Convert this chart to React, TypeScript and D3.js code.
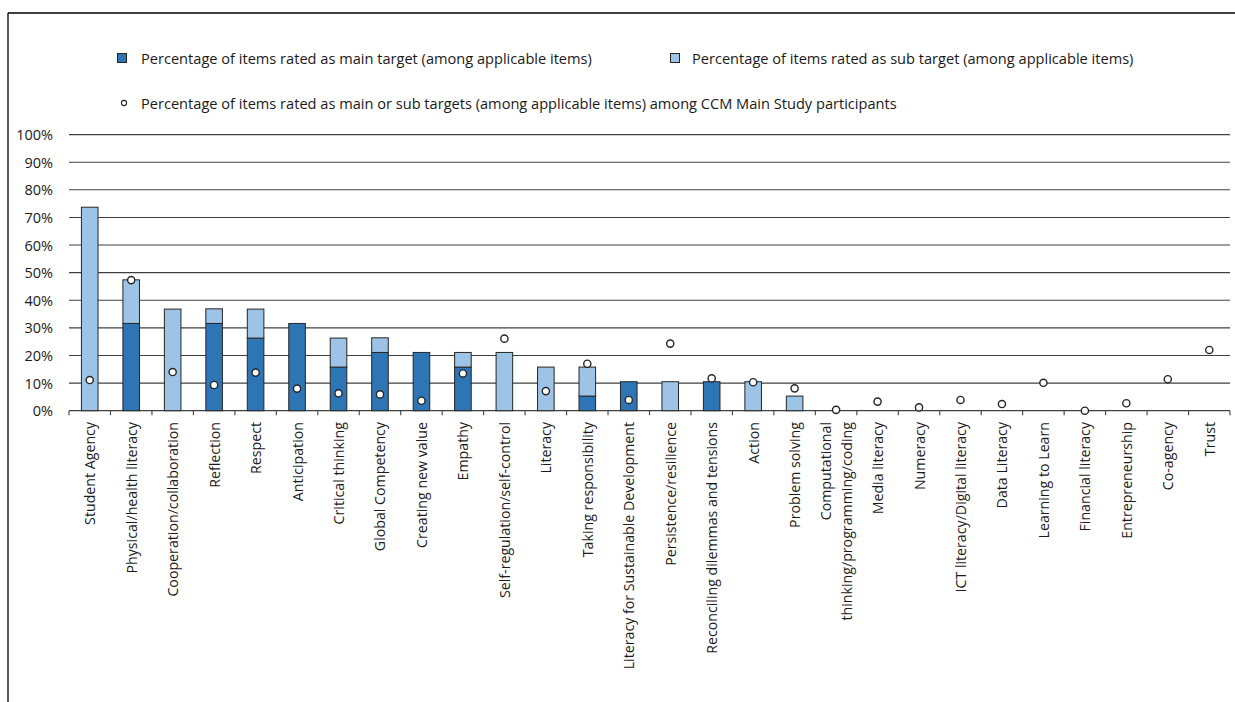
import React from "react";
import * as d3 from "d3";

const categories: string[] = [
  "Student Agency",
  "Physical/health literacy",
  "Cooperation/collaboration",
  "Reflection",
  "Respect",
  "Anticipation",
  "Critical thinking",
  "Global Competency",
  "Creating new value",
  "Empathy",
  "Self-regulation/self-control",
  "Literacy",
  "Taking responsibility",
  "Literacy for Sustainable Development",
  "Persistence/resilience",
  "Reconciling dilemmas and tensions",
  "Action",
  "Problem solving",
  "Computational\nthinking/programming/coding",
  "Media literacy",
  "Numeracy",
  "ICT literacy/Digital literacy",
  "Data Literacy",
  "Learning to Learn",
  "Financial literacy",
  "Entrepreneurship",
  "Co-agency",
  "Trust",
];

// Percentage of items rated as main target
const mainTarget: number[] = [
  0, 31.6, 0, 31.6, 26.3, 31.6, 15.8, 21.1, 21.1, 15.8, 0, 0, 5.3, 10.5, 0, 10.5, 0, 0, 0, 0, 0, 0, 0, 0, 0, 0, 0, 0,
];
// Percentage of items rated as sub target
const subTarget: number[] = [
  73.7, 15.8, 36.8, 5.3, 10.5, 0, 10.5, 5.3, 0, 5.3, 21.1, 15.8, 10.5, 0, 10.5, 0, 10.5, 5.3, 0, 0, 0, 0, 0, 0, 0, 0, 0, 0,
];
// Main or sub targets among CCM Main Study participants
const ccmParticipants: number[] = [
  11.1, 47.3, 14.0, 9.3, 13.8, 8.0, 6.3, 5.9, 3.6, 13.5, 26.1, 7.1, 17.0, 3.9, 24.3, 11.7, 10.3, 8.1, 0.3, 3.3, 1.2, 3.9,
  2.4, 10.1, 0, 2.7, 11.4, 22.0,
];

const yTicks: number[] = [0, 10, 20, 30, 40, 50, 60, 70, 80, 90, 100];

const legendLabels: string[] = [
  "Percentage of items rated as main target (among applicable items)",
  "Percentage of items rated as sub target (among applicable items)",
  "Percentage of items rated as main or sub targets (among applicable items) among CCM Main Study participants",
];

const W = 1235;
const H = 702;
const PLOT_LEFT = 69;
const PLOT_RIGHT = 1230;
const Y_TOP = 134.6;
const Y_BOTTOM = 410.7;
const MAIN_COLOR = "#2E75B6";
const SUB_COLOR = "#9DC3E6";
const OUTLINE = "#262626";
const GRID = "#404040";
const FONT = "'Open Sans', 'DejaVu Sans', sans-serif";
const TEXT = "#1a1a1a";

export default function App() {
  const x = d3
    .scaleBand<number>()
    .domain(d3.range(categories.length))
    .range([PLOT_LEFT, PLOT_RIGHT])
    .paddingInner(0.6)
    .paddingOuter(0.3);
  const step = x.step();
  const y = d3.scaleLinear().domain([0, 100]).range([Y_BOTTOM, Y_TOP]);

  return (
    <svg
      width={W}
      height={H}
      style={{ position: "absolute", left: 0, top: 0, background: "#fff" }}
      fontFamily={FONT}
    >
      <rect x={0} y={0} width={W} height={H} fill="#fff" />
      {/* frame */}
      <line x1={8} y1={13} x2={W} y2={13} stroke="#000" strokeWidth={1.3} />
      <line x1={8} y1={13} x2={8} y2={H} stroke="#000" strokeWidth={1.3} />

      {/* legend */}
      <g fontSize={14.6} fill={TEXT}>
        <rect x={117.5} y={53.5} width={9} height={9} fill={MAIN_COLOR} stroke={OUTLINE} strokeWidth={1} />
        <text x={141} y={58} dominantBaseline="central">
          {legendLabels[0]}
        </text>
        <rect x={670.5} y={53.5} width={9} height={9} fill={SUB_COLOR} stroke={OUTLINE} strokeWidth={1} />
        <text x={692} y={58} dominantBaseline="central">
          {legendLabels[1]}
        </text>
        <circle cx={124} cy={103} r={2.6} fill="#fff" stroke={OUTLINE} strokeWidth={1.1} />
        <text x={141} y={103} dominantBaseline="central">
          {legendLabels[2]}
        </text>
      </g>

      {/* gridlines */}
      {yTicks.map((t) => (
        <line
          key={"g" + t}
          x1={PLOT_LEFT}
          x2={PLOT_RIGHT}
          y1={y(t)}
          y2={y(t)}
          stroke={GRID}
          strokeWidth={t === 0 ? 1.3 : 1.1}
        />
      ))}
      {/* y tick labels */}
      {yTicks.map((t) => (
        <text
          key={"yl" + t}
          x={53}
          y={y(t)}
          textAnchor="end"
          dominantBaseline="central"
          fontSize={14.5}
          fill={TEXT}
        >
          {t + "%"}
        </text>
      ))}
      {/* x ticks */}
      {d3.range(categories.length + 1).map((i) => (
        <line
          key={"xt" + i}
          x1={PLOT_LEFT + i * step}
          x2={PLOT_LEFT + i * step}
          y1={Y_BOTTOM}
          y2={Y_BOTTOM + 4.5}
          stroke={GRID}
          strokeWidth={1.1}
        />
      ))}

      {/* bars */}
      {categories.map((_, i) => {
        const bx = x(i) as number;
        const bw = x.bandwidth();
        const m = mainTarget[i];
        const s = subTarget[i];
        return (
          <g key={"b" + i}>
            {m > 0 && (
              <rect x={bx} y={y(m)} width={bw} height={y(0) - y(m)} fill={MAIN_COLOR} stroke={OUTLINE} strokeWidth={1} />
            )}
            {s > 0 && (
              <rect
                x={bx}
                y={y(m + s)}
                width={bw}
                height={y(m) - y(m + s)}
                fill={SUB_COLOR}
                stroke={OUTLINE}
                strokeWidth={1}
              />
            )}
          </g>
        );
      })}

      {/* dots */}
      {ccmParticipants.map((v, i) => (
        <circle
          key={"d" + i}
          cx={(x(i) as number) + x.bandwidth() / 2}
          cy={y(v)}
          r={3.6}
          fill="#fff"
          stroke={OUTLINE}
          strokeWidth={1.4}
        />
      ))}

      {/* x labels */}
      {categories.map((c, i) => {
        const cx = (x(i) as number) + x.bandwidth() / 2;
        const lines = c.split("\n");
        const lh = 21.5;
        return (
          <g key={"xl" + i} transform={`translate(${cx},422) rotate(-90)`}>
            {lines.map((ln, j) => (
              <text
                key={j}
                x={0}
                y={(j - (lines.length - 1) / 2) * lh}
                textAnchor="end"
                dominantBaseline="central"
                fontSize={14.2}
                fill={TEXT}
              >
                {ln}
              </text>
            ))}
          </g>
        );
      })}
    </svg>
  );
}
